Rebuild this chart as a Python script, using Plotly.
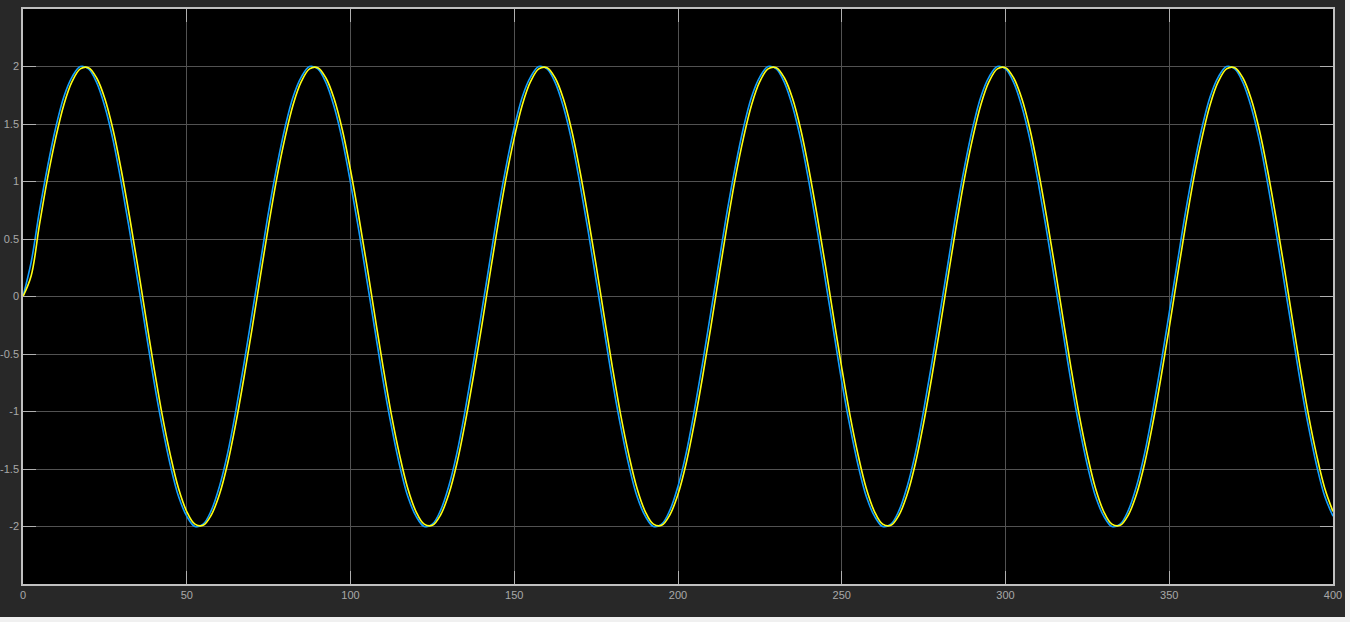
import plotly.graph_objects as go

# time samples (step 2.5)
t = [i * 2.5 for i in range(161)]

# signal 1 (blue)
sig_blue = [0.00,
    0.30, 0.74, 1.13, 1.47, 1.74, 1.91, 2.00, 1.98, 1.86, 1.65, 1.36, 0.99, 0.58, 0.14,
    -0.30, -0.74, -1.13, -1.47, -1.74, -1.91, -2.00, -1.98, -1.86, -1.65, -1.36, -0.99, -0.58, -0.14,
    0.30, 0.74, 1.13, 1.47, 1.74, 1.91, 2.00, 1.98, 1.86, 1.65, 1.36, 0.99, 0.58, 0.14,
    -0.30, -0.74, -1.13, -1.47, -1.74, -1.91, -2.00, -1.98, -1.86, -1.65, -1.36, -0.99, -0.58, -0.14,
    0.30, 0.74, 1.13, 1.47, 1.74, 1.91, 2.00, 1.98, 1.86, 1.65, 1.36, 0.99, 0.58, 0.14,
    -0.30, -0.74, -1.13, -1.47, -1.74, -1.91, -2.00, -1.98, -1.86, -1.65, -1.36, -0.99, -0.58, -0.14,
    0.30, 0.74, 1.13, 1.47, 1.74, 1.91, 2.00, 1.98, 1.86, 1.65, 1.36, 0.99, 0.58, 0.14,
    -0.30, -0.74, -1.13, -1.47, -1.74, -1.91, -2.00, -1.98, -1.86, -1.65, -1.36, -0.99, -0.58, -0.14,
    0.30, 0.74, 1.13, 1.47, 1.74, 1.91, 2.00, 1.98, 1.86, 1.65, 1.36, 0.99, 0.58, 0.14,
    -0.30, -0.74, -1.13, -1.47, -1.74, -1.91, -2.00, -1.98, -1.86, -1.65, -1.36, -0.99, -0.58, -0.14,
    0.30, 0.74, 1.13, 1.47, 1.74, 1.91, 2.00, 1.98, 1.86, 1.65, 1.36, 0.99, 0.58, 0.14,
    -0.30, -0.74, -1.13, -1.47, -1.74, -1.91]

# signal 2 (yellow), slightly delayed
sig_yellow = [0.00,
    0.18, 0.62, 1.03, 1.38, 1.67, 1.87, 1.98, 1.99, 1.90, 1.72, 1.45, 1.10, 0.70, 0.27,
    -0.18, -0.62, -1.03, -1.38, -1.67, -1.87, -1.98, -1.99, -1.90, -1.72, -1.45, -1.10, -0.70, -0.27,
    0.18, 0.62, 1.03, 1.38, 1.67, 1.87, 1.98, 1.99, 1.90, 1.72, 1.45, 1.10, 0.70, 0.27,
    -0.18, -0.62, -1.03, -1.38, -1.67, -1.87, -1.98, -1.99, -1.90, -1.72, -1.45, -1.10, -0.70, -0.27,
    0.18, 0.62, 1.03, 1.38, 1.67, 1.87, 1.98, 1.99, 1.90, 1.72, 1.45, 1.10, 0.70, 0.27,
    -0.18, -0.62, -1.03, -1.38, -1.67, -1.87, -1.98, -1.99, -1.90, -1.72, -1.45, -1.10, -0.70, -0.27,
    0.18, 0.62, 1.03, 1.38, 1.67, 1.87, 1.98, 1.99, 1.90, 1.72, 1.45, 1.10, 0.70, 0.27,
    -0.18, -0.62, -1.03, -1.38, -1.67, -1.87, -1.98, -1.99, -1.90, -1.72, -1.45, -1.10, -0.70, -0.27,
    0.18, 0.62, 1.03, 1.38, 1.67, 1.87, 1.98, 1.99, 1.90, 1.72, 1.45, 1.10, 0.70, 0.27,
    -0.18, -0.62, -1.03, -1.38, -1.67, -1.87, -1.98, -1.99, -1.90, -1.72, -1.45, -1.10, -0.70, -0.27,
    0.18, 0.62, 1.03, 1.38, 1.67, 1.87, 1.98, 1.99, 1.90, 1.72, 1.45, 1.10, 0.70, 0.27,
    -0.18, -0.62, -1.03, -1.38, -1.67, -1.87]

x_ticks = [0, 50, 100, 150, 200, 250, 300, 350, 400]
y_ticks = [-2, -1.5, -1, -0.5, 0, 0.5, 1, 1.5, 2]
y_tick_labels = ["-2", "-1.5", "-1", "-0.5", "0", "0.5", "1", "1.5", "2"]

fig = go.Figure()
fig.add_trace(go.Scatter(x=t, y=sig_blue, mode="lines",
                         line=dict(color="#139fff", width=1.6, shape="spline", smoothing=1),
                         showlegend=False))
fig.add_trace(go.Scatter(x=t, y=sig_yellow, mode="lines",
                         line=dict(color="#ffff11", width=1.6, shape="spline", smoothing=1),
                         showlegend=False))

axis_common = dict(
    showgrid=True, gridcolor="#525252", gridwidth=1,
    showline=True, linecolor="#c0c0c0", linewidth=1.5, mirror="ticks",
    ticks="inside", ticklen=13, tickcolor="#b0b0b0", tickwidth=1,
    zeroline=False, automargin=False,
    tickfont=dict(family="Liberation Sans, Arial, sans-serif", size=11, color="#a8a8a8"),
)

fig.update_xaxes(range=[0, 400], tickvals=x_ticks, **axis_common)
fig.update_yaxes(range=[-2.5, 2.5], tickvals=y_ticks, ticktext=y_tick_labels, **axis_common)

fig.update_layout(
    width=1345, height=617,
    margin=dict(l=23, r=12, t=9, b=33),
    paper_bgcolor="#282828",
    plot_bgcolor="#000000",
    showlegend=False,
)

fig.write_html("out.html",
               config={"displayModeBar": False},
               post_script="document.body.style.margin='0';document.body.style.background='#f0f0f0';")
